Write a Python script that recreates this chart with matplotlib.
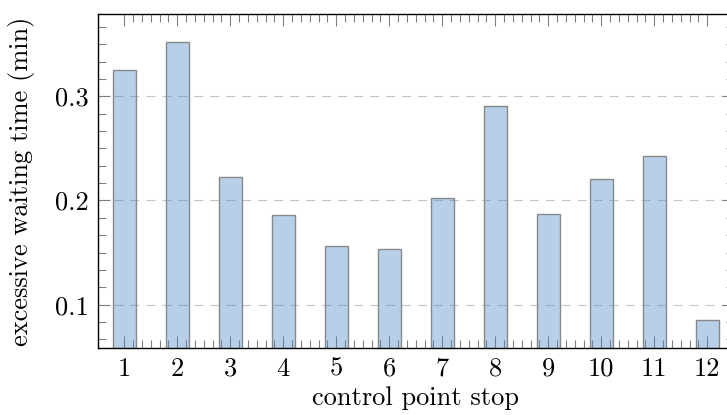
import numpy as np
import matplotlib
matplotlib.use("Agg")
import matplotlib.pyplot as plt
from matplotlib.ticker import FixedLocator, MultipleLocator, FixedFormatter

plt.rcParams['font.family'] = ['cmr10']
plt.rcParams['mathtext.fontset'] = 'cm'
plt.rcParams['axes.formatter.use_mathtext'] = True
plt.rcParams['lines.scale_dashes'] = False

stops = list(range(1, 13))
stop_labels = [str(s) for s in stops]
waiting = [0.3255, 0.3521, 0.2227, 0.1858, 0.1560, 0.1532,
           0.2027, 0.2907, 0.1873, 0.2209, 0.2424, 0.0850]
ytick_vals = [0.1, 0.2, 0.3]
ytick_labels = ['0.1', '0.2', '0.3']

W, H = 727, 415
fig = plt.figure(figsize=(W / 100, H / 100), dpi=100)
left, right, bottom, top = 97.7, 733.8, 348.0, 14.3
ax = fig.add_axes([left / W, (H - bottom) / H, (right - left) / W, (bottom - top) / H])

ax.set_axisbelow(True)
ax.bar(stops, waiting, width=0.44, bottom=0,
       color=(78 / 255, 135 / 255, 198 / 255, 0.4),
       edgecolor='#888888', linewidth=1.0)

ax.set_xlim(0.5, 12.5)
ax.set_ylim(0.0584, 0.3787)

ax.xaxis.set_major_locator(FixedLocator(stops))
ax.xaxis.set_major_formatter(FixedFormatter(stop_labels))
minor_x = [s + k / 6 for s in stops[:-1] for k in range(1, 6)]
ax.xaxis.set_minor_locator(FixedLocator(minor_x))

ax.yaxis.set_major_locator(FixedLocator(ytick_vals))
ax.yaxis.set_major_formatter(FixedFormatter(ytick_labels))
ax.yaxis.set_minor_locator(MultipleLocator(0.1 / 6))

ax.grid(True, axis='y', which='major', color='#c4c4c4', linewidth=0.8,
        linestyle=(0, (6.5, 5)))

ax.tick_params(which='both', direction='in', top=True, right=True,
               color='#808080', width=0.8, labelsize=19)
ax.tick_params(which='major', length=8.4, pad=6.5)
ax.tick_params(which='minor', length=5.6)

for sp in ax.spines.values():
    sp.set_color('black')
    sp.set_linewidth(1.0)

ax.set_xlabel('control point stop', fontsize=19, labelpad=4)
ax.set_ylabel('excessive waiting time (min)', fontsize=19, labelpad=14)

fig.savefig('out.png', dpi=100)
